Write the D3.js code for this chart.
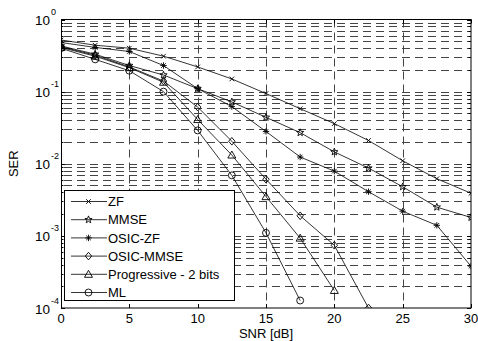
<!DOCTYPE html>
<html>
<head>
<meta charset="utf-8">
<script src="https://cdnjs.cloudflare.com/ajax/libs/d3/7.8.5/d3.min.js"></script>
<style>
  body { margin: 0; background: #fff; }
  text { font-family: "Liberation Sans", Arial, sans-serif; fill: #000; }
</style>
</head>
<body>
<svg id="chart"></svg>
<script>
// SNR points (dB)
const snr = [0, 2.5, 5, 7.5, 10, 12.5, 15, 17.5, 20, 22.5, 25, 27.5, 30];

const zf       = [0.52, 0.44, 0.40, 0.31, 0.22, 0.15, 0.094, 0.058, 0.036, 0.021, 0.011, 0.0062, 0.0039];
const mmse     = [0.43, 0.33, 0.23, 0.17, 0.11, 0.072, 0.044, 0.027, 0.0146, 0.0087, 0.0048, 0.0025, 0.0018];
const osicZf   = [0.48, 0.41, 0.36, 0.23, 0.11, 0.062, 0.028, 0.0124, 0.0079, 0.0041, 0.0022, 0.0014, 0.00038];
const osicMmse = [0.42, 0.32, 0.22, 0.14, 0.061, 0.0205, 0.0061, 0.0019, 0.00074, 0.0001];
const progr    = [0.41, 0.31, 0.215, 0.135, 0.041, 0.0132, 0.0035, 0.00093, 0.000175];
const ml       = [0.40, 0.28, 0.195, 0.10, 0.029, 0.0069, 0.0011, 0.000127];

const seriesNames = ["ZF", "MMSE", "OSIC-ZF", "OSIC-MMSE", "Progressive - 2 bits", "ML"];
const seriesValues = [zf, mmse, osicZf, osicMmse, progr, ml];
const seriesMarkers = ["x", "star", "asterisk", "diamond", "triangle", "circle"];

const xTicks = [0, 5, 10, 15, 20, 25, 30];
const yDecades = [0, -1, -2, -3, -4];

const W = 478, H = 341;
const margin = {top: 19.5, right: 7, bottom: 33, left: 61};

const svg = d3.select("#chart").attr("width", W).attr("height", H);

const x = d3.scaleLinear().domain([0, 30]).range([margin.left, W - margin.right]);
const y = d3.scaleLog().domain([1e-4, 1]).range([H - margin.bottom, margin.top]);

const x0 = x.range()[0], x1 = x.range()[1];
const y0 = y.range()[0], y1 = y.range()[1];

// grid values: every 1..9 per decade
let yGrid = [];
for (let e = -4; e < 0; e++) {
  for (let m = 1; m <= 9; m++) yGrid.push(m * Math.pow(10, e));
}
yGrid.push(1);

const grid = svg.append("g");
grid.selectAll("line.h")
  .data(yGrid.filter(v => v > 1e-4 && v < 1))
  .enter().append("line")
    .attr("x1", x0).attr("x2", x1)
    .attr("y1", d => Math.round(y(d)) + 0.5).attr("y2", d => Math.round(y(d)) + 0.5)
    .attr("stroke", "#444").attr("stroke-width", 1)
    .attr("stroke-dasharray", "8,5").attr("stroke-dashoffset", -3);

grid.selectAll("line.v")
  .data(xTicks.slice(1, -1))
  .enter().append("line")
    .attr("x1", d => Math.round(x(d)) + 0.5).attr("x2", d => Math.round(x(d)) + 0.5)
    .attr("y1", y1).attr("y2", y0)
    .attr("stroke", "#444").attr("stroke-width", 1)
    .attr("stroke-dasharray", "8,5");

// tick marks on frame
const ticks = svg.append("g").attr("stroke", "#000");
yGrid.forEach(v => {
  const len = (Math.abs(Math.log10(v) - Math.round(Math.log10(v))) < 1e-9) ? 4 : 2.5;
  const yy = Math.round(y(v)) + 0.5;
  ticks.append("line").attr("x1", x0).attr("x2", x0 + len).attr("y1", yy).attr("y2", yy);
  ticks.append("line").attr("x1", x1).attr("x2", x1 - len).attr("y1", yy).attr("y2", yy);
});
xTicks.forEach(v => {
  const xx = Math.round(x(v)) + 0.5;
  ticks.append("line").attr("x1", xx).attr("x2", xx).attr("y1", y0).attr("y2", y0 - 4);
  ticks.append("line").attr("x1", xx).attr("x2", xx).attr("y1", y1).attr("y2", y1 + 4);
});

// clip
svg.append("clipPath").attr("id", "plotclip")
  .append("rect").attr("x", x0).attr("y", y1).attr("width", x1 - x0).attr("height", y0 - y1);

function markerPath(kind) {
  switch (kind) {
    case "x": return "M-2.3,-2.3L2.3,2.3M2.3,-2.3L-2.3,2.3";
    case "asterisk": return "M0,-3.2L0,3.2M-3.2,0L3.2,0M-2.3,-2.3L2.3,2.3M2.3,-2.3L-2.3,2.3";
    case "star": {
      let p = [];
      for (let i = 0; i < 10; i++) {
        const r = i % 2 === 0 ? 3.8 : 1.6;
        const a = -Math.PI / 2 + i * Math.PI / 5;
        p.push([r * Math.cos(a), r * Math.sin(a)]);
      }
      return "M" + p.map(d => d[0].toFixed(2) + "," + d[1].toFixed(2)).join("L") + "Z";
    }
    case "diamond": return "M0,-3.8L3.2,0L0,3.8L-3.2,0Z";
    case "triangle": return "M0,-4L4,3L-4,3Z";
    case "circle": return d3.symbol(d3.symbolCircle, 38)();
  }
}

const line = d3.line().x(d => x(d[0])).y(d => y(d[1]));

const plot = svg.append("g").attr("clip-path", "url(#plotclip)");
seriesValues.forEach((vals, i) => {
  const pts = vals.map((v, j) => [snr[j], v]);
  plot.append("path").datum(pts)
    .attr("d", line).attr("fill", "none").attr("stroke", "#000").attr("stroke-width", 0.8);
  plot.selectAll(null).data(pts).enter().append("path")
    .attr("transform", d => `translate(${x(d[0])},${y(d[1])})`)
    .attr("d", markerPath(seriesMarkers[i]))
    .attr("fill", "none").attr("stroke", "#000").attr("stroke-width", 0.9);
});

// frame
svg.append("rect").attr("x", x0 + 0.5).attr("y", y1).attr("width", x1 - x0 - 0.5).attr("height", y0 - y1)
  .attr("fill", "none").attr("stroke", "#000").attr("stroke-width", 1);

// x tick labels
svg.append("g").selectAll("text").data(xTicks).enter().append("text")
  .attr("x", d => x(d)).attr("y", y0 + 15)
  .attr("text-anchor", "middle").attr("font-size", 13)
  .text(d => d);

// y tick labels (10^n)
const yl = svg.append("g");
yDecades.forEach(e => {
  const t = yl.append("text").attr("x", 50).attr("y", y(Math.pow(10, e)) + 5.5)
    .attr("text-anchor", "end").attr("font-size", 13.5).text("10");
  yl.append("text").attr("x", 51).attr("y", y(Math.pow(10, e)) - 4.5)
    .attr("font-size", 9).text(e === 0 ? "0" : "-" + Math.abs(e));
});

// axis titles
svg.append("text").attr("x", (x0 + x1) / 2).attr("y", H - 3)
  .attr("text-anchor", "middle").attr("font-size", 13).text("SNR [dB]");
svg.append("text").attr("transform", `translate(18,${(y0 + y1) / 2}) rotate(-90)`)
  .attr("text-anchor", "middle").attr("font-size", 13).text("SER");

// legend
const lg = svg.append("g");
lg.append("rect").attr("x", 64.5).attr("y", 190.5).attr("width", 170).attr("height", 110)
  .attr("fill", "#fff").attr("stroke", "#000").attr("stroke-width", 1);
seriesNames.forEach((name, i) => {
  const yy = 201.5 + i * 18.2;
  lg.append("line").attr("x1", 71).attr("x2", 107).attr("y1", yy).attr("y2", yy)
    .attr("stroke", "#000").attr("stroke-width", 0.8);
  lg.append("path").attr("transform", `translate(88.5,${yy})`).attr("d", markerPath(seriesMarkers[i]))
    .attr("fill", "none").attr("stroke", "#000").attr("stroke-width", 0.9);
  lg.append("text").attr("x", 108).attr("y", yy + 4.7).attr("font-size", 13).text(name);
});
</script>
</body>
</html>
